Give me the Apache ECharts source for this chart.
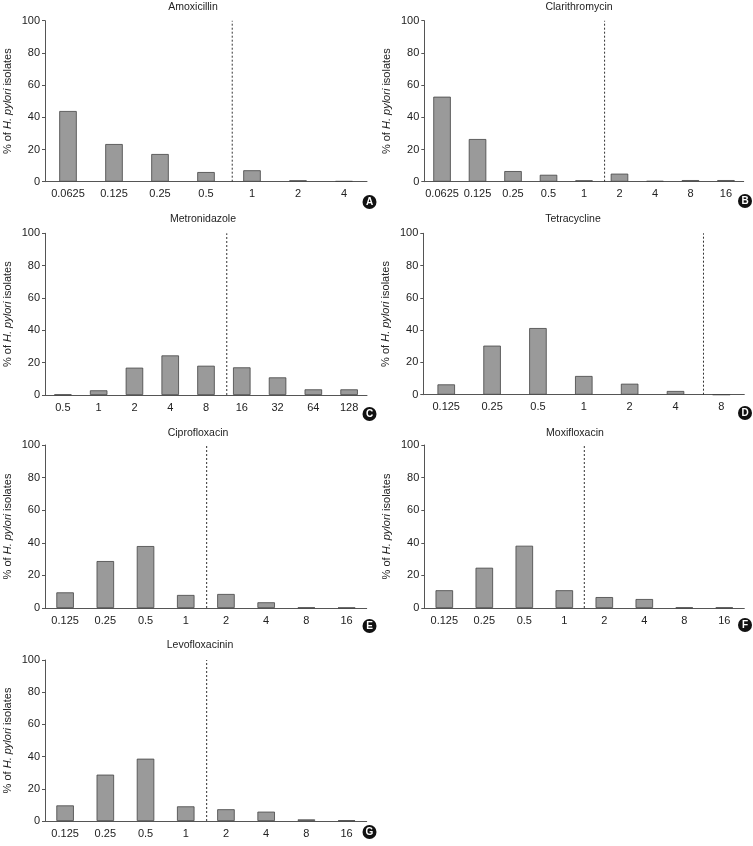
<!DOCTYPE html>
<html><head><meta charset="utf-8">
<script src="https://cdn.jsdelivr.net/npm/echarts@6/dist/echarts.min.js"></script>
<style>html,body{margin:0;padding:0;background:#fff}#c{width:753px;height:846px}</style>
</head><body><div id="c"></div>
<script>
// ---- data ----
const titles = ['Amoxicillin','Clarithromycin','Metronidazole','Tetracycline','Ciprofloxacin','Moxifloxacin','Levofloxacinin'];
const panelLetters = ['A','B','C','D','E','F','G'];
const catsA = ['0.0625','0.125','0.25','0.5','1','2','4'];
const catsB = ['0.0625','0.125','0.25','0.5','1','2','4','8','16'];
const catsC = ['0.5','1','2','4','8','16','32','64','128'];
const catsD = ['0.125','0.25','0.5','1','2','4','8'];
const catsE = ['0.125','0.25','0.5','1','2','4','8','16'];
const catsF = ['0.125','0.25','0.5','1','2','4','8','16'];
const catsG = ['0.125','0.25','0.5','1','2','4','8','16'];
const valsA = [43.9, 23.4, 17.2, 6.0, 7.1, 0.9, 0.4];
const valsB = [52.8, 26.5, 6.6, 4.3, 0.9, 5.0, 0.5, 1.0, 1.0];
const valsC = [0.3, 2.9, 16.9, 24.5, 18.1, 17.1, 10.9, 3.5, 3.5];
const valsD = [6.4, 30.4, 41.3, 11.6, 6.8, 2.3, 0];
const valsE = [9.6, 28.8, 38.0, 8.0, 8.6, 3.5, 0.3, 0.2];
const valsF = [10.9, 24.7, 38.2, 10.9, 6.7, 5.5, 0.3, 0.3];
const valsG = [9.7, 28.8, 38.7, 9.1, 7.3, 5.8, 1.0, 0.4];
// breakpoint position (in category-band units from the left of the axis)
const breakpoints = [4.07, 5.08, 5.08, 6.11, 4.02, 4.0, 4.02];
const yTicks = [0, 20, 40, 60, 80, 100];

const cats = [catsA, catsB, catsC, catsD, catsE, catsF, catsG];
const vals = [valsA, valsB, valsC, valsD, valsE, valsF, valsG];

// ---- layout ----
const grids = [
  {left:45, top:20.7, width:322, height:161},
  {left:424.3, top:20.7, width:319.4, height:161},
  {left:45, top:233.3, width:322, height:161.7},
  {left:423.3, top:233.3, width:321, height:161.4},
  {left:45, top:445, width:321.7, height:163},
  {left:424.3, top:445, width:320, height:163},
  {left:45, top:660, width:321.7, height:161}
];
const titlePos = [[193,6.7],[579,7],[203,219.3],[573,219.3],[198,433],[575,433.3],[200,645]];
const circlePos = [[369.5,202],[745,201],[369.5,414],[745,413],[369.5,626],[745,625],[369.5,832]];

const FONT = '"Liberation Sans", Arial, sans-serif';
const axisColor = '#555';
const txt = '#222';

const option = {
  animation:false,
  backgroundColor:'#fff',
  textStyle:{fontFamily:FONT},
  title:[], grid:[], xAxis:[], yAxis:[], series:[], graphic:[]
};

for (let i = 0; i < 7; i++) {
  option.title.push({text:titles[i], left:titlePos[i][0], top:titlePos[i][1]-6, textAlign:'center', padding:0,
    textStyle:{fontFamily:FONT, fontSize:10.5, fontWeight:'normal', color:txt, lineHeight:12}});
  option.grid.push(Object.assign({containLabel:false}, grids[i]));
  option.xAxis.push({type:'category', gridIndex:i, data:cats[i],
    axisLine:{lineStyle:{color:axisColor, width:1}},
    axisTick:{inside:true, length:3, lineStyle:{color:axisColor}},
    axisLabel:{color:txt, fontSize:11, margin:7, fontFamily:FONT, interval:0},
    splitLine:{show:false}});
  option.xAxis.push({type:'value', gridIndex:i, min:0, max:cats[i].length, show:false, position:'top'});
  option.yAxis.push({type:'value', gridIndex:i, min:yTicks[0], max:yTicks[yTicks.length-1], interval:yTicks[1]-yTicks[0],
    name:'% of {i|H. pylori} isolates', nameLocation:'middle', nameGap:32,
    nameTextStyle:{color:txt, fontSize:11, fontFamily:FONT,
      rich:{i:{fontStyle:'italic', fontSize:11, color:txt, fontFamily:FONT}}},
    axisLine:{show:true, lineStyle:{color:axisColor, width:1}},
    axisTick:{show:true, length:3, lineStyle:{color:axisColor}},
    axisLabel:{color:txt, fontSize:11, margin:5, fontFamily:FONT},
    splitLine:{show:false}});
  option.series.push({type:'bar', xAxisIndex:2*i, yAxisIndex:i, data:vals[i], barWidth:17.5,
    itemStyle:{color:'#9a9a9a', borderColor:'#444', borderWidth:0.8}});
  option.series.push({type:'line', xAxisIndex:2*i+1, yAxisIndex:i, symbol:'none',
    data:[[breakpoints[i],0],[breakpoints[i],100]],
    lineStyle:{color:'#333', width:1, type:[2,2]}});
  option.graphic.push({type:'group', x:circlePos[i][0], y:circlePos[i][1], children:[
    {type:'circle', shape:{cx:0, cy:0, r:7}, style:{fill:'#111'}},
    {type:'text', x:0, y:0.5, style:{text:panelLetters[i], fill:'#fff', font:'bold 10px "Liberation Sans", Arial', textAlign:'center', textVerticalAlign:'middle'}}
  ]});
}

const chart = echarts.init(document.getElementById('c'), null, {renderer:'canvas'});
chart.setOption(option);
</script></body></html>
